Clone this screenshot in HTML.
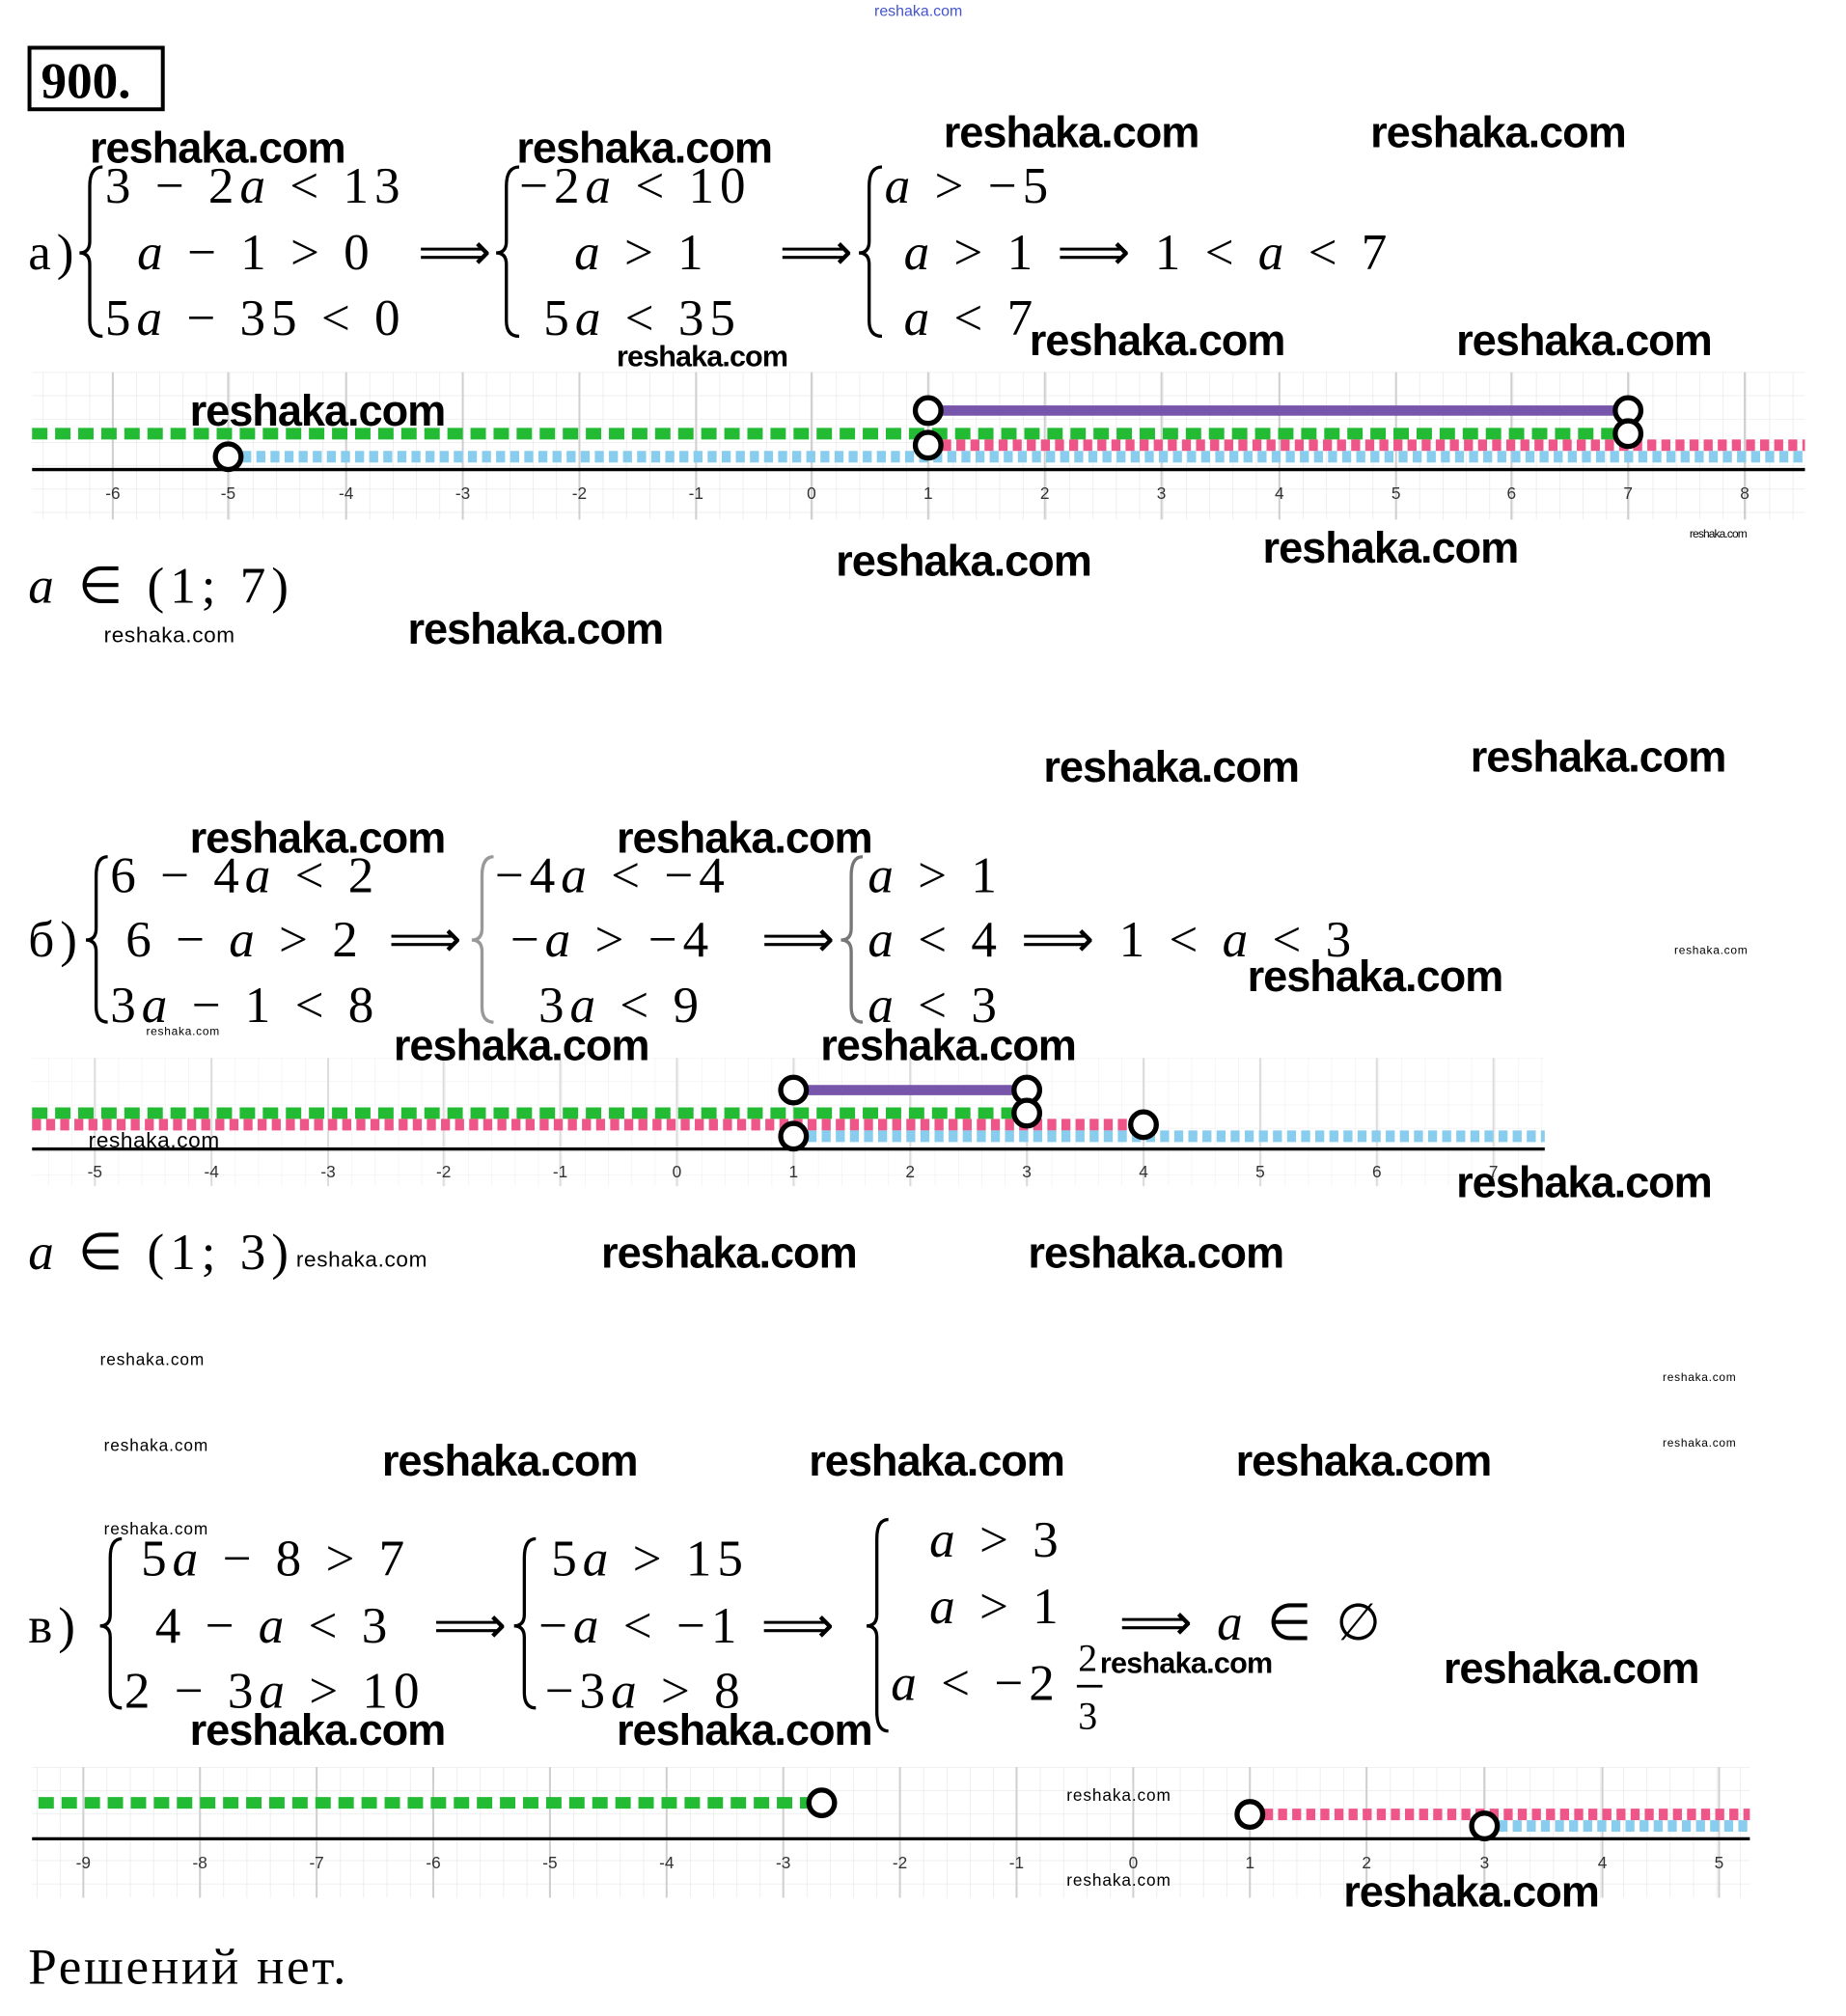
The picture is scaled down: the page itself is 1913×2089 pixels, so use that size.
<!DOCTYPE html>
<html><head><meta charset="utf-8"><style>
html,body{margin:0;padding:0;background:#fff;}
svg{display:block;}
.m{font-family:"Liberation Serif",serif;font-size:40px;fill:#000;letter-spacing:4.5px;}
.w{font-family:"Liberation Sans",sans-serif;font-weight:bold;fill:#000;}
.t{font-family:"Liberation Sans",sans-serif;font-size:13px;fill:#333;}
</style></head><body>
<svg width="1913" height="2089" viewBox="0 0 1440 1572" xmlns="http://www.w3.org/2000/svg">
<defs>
<pattern id="ga" patternUnits="userSpaceOnUse" x="88" y="290" width="18.2" height="18.2"><path d="M0 0V18.2M0 0H18.2" stroke="#e6e6e6" stroke-width="1" fill="none"/></pattern>
<pattern id="gb" patternUnits="userSpaceOnUse" x="74" y="825" width="18.2" height="18.2"><path d="M0 0V18.2M0 0H18.2" stroke="#f0f0f0" stroke-width="1" fill="none"/></pattern>
<pattern id="gc" patternUnits="userSpaceOnUse" x="65" y="1378" width="18.2" height="18.2"><path d="M0 0V18.2M0 0H18.2" stroke="#e6e6e6" stroke-width="1" fill="none"/></pattern>
</defs>
<rect width="1440" height="1572" fill="#fff"/>
<text x="682" y="12" font-family="Liberation Sans,sans-serif" font-size="12" fill="#4455cc">reshaka.com</text>
<rect x="23" y="37" width="104" height="48" fill="none" stroke="#000" stroke-width="3"/>
<text x="32" y="76" font-family="Liberation Serif,serif" font-weight="bold" font-size="40">900.</text>

<!-- part a -->
<g class="m" dominant-baseline="central">
<text x="22" y="197">а)</text>
<text x="82" y="145">3 − 2<tspan font-style="italic">a</tspan> &lt; 13</text>
<text x="107" y="197"><tspan font-style="italic">a</tspan> − 1 &gt; 0</text>
<text x="82" y="248">5<tspan font-style="italic">a</tspan> − 35 &lt; 0</text>
<text x="326" y="197" letter-spacing="0">⟹</text>
<text x="405" y="145">−2<tspan font-style="italic">a</tspan> &lt; 10</text>
<text x="448" y="197"><tspan font-style="italic">a</tspan> &gt; 1</text>
<text x="424" y="248">5<tspan font-style="italic">a</tspan> &lt; 35</text>
<text x="608" y="197" letter-spacing="0">⟹</text>
<text x="690" y="145"><tspan font-style="italic">a</tspan> &gt; −5</text>
<text x="705" y="197"><tspan font-style="italic">a</tspan> &gt; 1  ⟹ 1 &lt; <tspan font-style="italic">a</tspan> &lt; 7</text>
<text x="705" y="248"><tspan font-style="italic">a</tspan> &lt; 7</text>
</g>
<g fill="none" stroke="#000" stroke-width="2.5">
<path d="M80 130 Q70 130 70 145 L70 188 Q70 197 62 197 Q70 197 70 206 L70 250 Q70 262 80 262"/>
<path d="M405 130 Q395 130 395 145 L395 188 Q395 197 387 197 Q395 197 395 206 L395 250 Q395 262 405 262"/>
<path d="M688 130 Q678 130 678 145 L678 188 Q678 197 670 197 Q678 197 678 206 L678 250 Q678 262 688 262"/>
</g>

<!-- number line a -->
<rect x="25" y="290" width="1383" height="115" fill="url(#ga)"/>
<g stroke="#cfcfcf" stroke-width="1.5">
<path d="M88 290V405M178 290V405M270 290V405M361 290V405M452 290V405M543 290V405M633 290V405M724 290V405M815 290V405M906 290V405M998 290V405M1089 290V405M1179 290V405M1270 290V405M1361 290V405"/>
</g>
<line x1="25" y1="366" x2="1408" y2="366" stroke="#000" stroke-width="2.5"/>
<g class="t" text-anchor="middle">
<text x="88" y="389">-6</text><text x="178" y="389">-5</text><text x="270" y="389">-4</text><text x="361" y="389">-3</text><text x="452" y="389">-2</text><text x="543" y="389">-1</text><text x="633" y="389">0</text><text x="724" y="389">1</text><text x="815" y="389">2</text><text x="906" y="389">3</text><text x="998" y="389">4</text><text x="1089" y="389">5</text><text x="1179" y="389">6</text><text x="1270" y="389">7</text><text x="1361" y="389">8</text>
</g>
<line x1="25" y1="338" x2="1270" y2="338" stroke="#22bb33" stroke-width="9" stroke-dasharray="12 6"/>
<line x1="724" y1="347" x2="1408" y2="347" stroke="#ee5588" stroke-width="9" stroke-dasharray="7 4"/>
<line x1="178" y1="356" x2="1408" y2="356" stroke="#88ccee" stroke-width="9" stroke-dasharray="7 4"/>
<line x1="724" y1="320" x2="1270" y2="320" stroke="#7755aa" stroke-width="8"/>
<g fill="#fff" stroke="#000" stroke-width="4">
<circle cx="724" cy="320" r="10"/><circle cx="724" cy="347" r="10"/><circle cx="1270" cy="320" r="10"/><circle cx="1270" cy="338" r="10"/><circle cx="178" cy="356" r="10"/>
</g>
<text class="m" x="22" y="457" dominant-baseline="central"><tspan font-style="italic">a</tspan> ∈ (1; 7)</text>

<!-- part b -->
<g class="m" dominant-baseline="central">
<text x="22" y="733">б)</text>
<text x="86" y="683">6 − 4<tspan font-style="italic">a</tspan> &lt; 2</text>
<text x="98" y="733">6 − <tspan font-style="italic">a</tspan> &gt; 2</text>
<text x="86" y="784">3<tspan font-style="italic">a</tspan> − 1 &lt; 8</text>
<text x="303" y="733" letter-spacing="0">⟹</text>
<text x="386" y="683">−4<tspan font-style="italic">a</tspan> &lt; −4</text>
<text x="398" y="733">−<tspan font-style="italic">a</tspan> &gt; −4</text>
<text x="420" y="784">3<tspan font-style="italic">a</tspan> &lt; 9</text>
<text x="594" y="733" letter-spacing="0">⟹</text>
<text x="677" y="683"><tspan font-style="italic">a</tspan> &gt; 1</text>
<text x="677" y="733"><tspan font-style="italic">a</tspan> &lt; 4 ⟹ 1 &lt; <tspan font-style="italic">a</tspan> &lt; 3</text>
<text x="677" y="784"><tspan font-style="italic">a</tspan> &lt; 3</text>
</g>
<g fill="none" stroke="#000" stroke-width="2.5">
<path d="M84 668 Q75 668 75 683 L75 724 Q75 733 67 733 Q75 733 75 742 L75 785 Q75 797 84 797"/>
<path d="M385 668 Q376 668 376 683 L376 724 Q376 733 368 733 Q376 733 376 742 L376 785 Q376 797 385 797" stroke="#999"/>
<path d="M673 668 Q664 668 664 683 L664 724 Q664 733 656 733 Q664 733 664 742 L664 785 Q664 797 673 797" stroke="#777"/>
</g>

<!-- number line b -->
<rect x="25" y="825" width="1180" height="100" fill="url(#gb)"/>
<g stroke="#dcdcdc" stroke-width="1.5">
<path d="M74 825V925M165 825V925M256 825V925M346 825V925M437 825V925M528 825V925M619 825V925M710 825V925M801 825V925M892 825V925M983 825V925M1074 825V925M1165 825V925"/>
</g>
<line x1="25" y1="896" x2="1205" y2="896" stroke="#000" stroke-width="2.5"/>
<g class="t" text-anchor="middle">
<text x="74" y="918">-5</text><text x="165" y="918">-4</text><text x="256" y="918">-3</text><text x="346" y="918">-2</text><text x="437" y="918">-1</text><text x="528" y="918">0</text><text x="619" y="918">1</text><text x="710" y="918">2</text><text x="801" y="918">3</text><text x="892" y="918">4</text><text x="983" y="918">5</text><text x="1074" y="918">6</text><text x="1165" y="918">7</text>
</g>
<line x1="25" y1="868" x2="801" y2="868" stroke="#22bb33" stroke-width="9" stroke-dasharray="12 6"/>
<line x1="25" y1="877" x2="892" y2="877" stroke="#ee5588" stroke-width="9" stroke-dasharray="7 4"/>
<line x1="619" y1="886" x2="1205" y2="886" stroke="#88ccee" stroke-width="9" stroke-dasharray="7 4"/>
<line x1="619" y1="850" x2="801" y2="850" stroke="#7755aa" stroke-width="8"/>
<g fill="#fff" stroke="#000" stroke-width="4">
<circle cx="619" cy="850" r="10"/><circle cx="619" cy="886" r="10"/><circle cx="801" cy="850" r="10"/><circle cx="801" cy="868" r="10"/><circle cx="892" cy="877" r="10"/>
</g>
<text class="m" x="22" y="977" dominant-baseline="central"><tspan font-style="italic">a</tspan> ∈ (1; 3)</text>

<!-- part v -->
<g class="m" dominant-baseline="central">
<text x="22" y="1268">в)</text>
<text x="110" y="1216">5<tspan font-style="italic">a</tspan> − 8 &gt; 7</text>
<text x="121" y="1268">4 − <tspan font-style="italic">a</tspan> &lt; 3</text>
<text x="97" y="1319">2 − 3<tspan font-style="italic">a</tspan> &gt; 10</text>
<text x="338" y="1268" letter-spacing="0">⟹</text>
<text x="430" y="1216">5<tspan font-style="italic">a</tspan> &gt; 15</text>
<text x="420" y="1268">−<tspan font-style="italic">a</tspan> &lt; −1 ⟹</text>
<text x="425" y="1319">−3<tspan font-style="italic">a</tspan> &gt; 8</text>
<text x="725" y="1201"><tspan font-style="italic">a</tspan> &gt; 3</text>
<text x="725" y="1253"><tspan font-style="italic">a</tspan> &gt; 1</text>
<text x="695" y="1313"><tspan font-style="italic">a</tspan> &lt; −2</text>
<text x="841" y="1293" font-size="30" letter-spacing="0">2</text>
<text x="841" y="1338" font-size="30" letter-spacing="0">3</text>
<text x="873" y="1266">⟹ <tspan font-style="italic">a</tspan> ∈ ∅</text>
</g>
<line x1="840" y1="1315" x2="860" y2="1315" stroke="#000" stroke-width="2"/>
<g fill="none" stroke="#000" stroke-width="2.5">
<path d="M95 1200 Q86 1200 86 1215 L86 1259 Q86 1268 78 1268 Q86 1268 86 1277 L86 1320 Q86 1332 95 1332"/>
<path d="M418 1200 Q409 1200 409 1215 L409 1259 Q409 1268 401 1268 Q409 1268 409 1277 L409 1320 Q409 1332 418 1332"/>
<path d="M693 1185 Q684 1185 684 1200 L684 1259 Q684 1268 676 1268 Q684 1268 684 1277 L684 1335 Q684 1350 693 1350"/>
</g>

<!-- number line v -->
<rect x="25" y="1378" width="1340" height="102" fill="url(#gc)"/>
<g stroke="#cfcfcf" stroke-width="1.5">
<path d="M65 1378V1480M156 1378V1480M247 1378V1480M338 1378V1480M429 1378V1480M520 1378V1480M611 1378V1480M702 1378V1480M793 1378V1480M884 1378V1480M975 1378V1480M1066 1378V1480M1158 1378V1480M1250 1378V1480M1341 1378V1480"/>
</g>
<line x1="25" y1="1434" x2="1365" y2="1434" stroke="#000" stroke-width="2.5"/>
<g class="t" text-anchor="middle">
<text x="65" y="1457">-9</text><text x="156" y="1457">-8</text><text x="247" y="1457">-7</text><text x="338" y="1457">-6</text><text x="429" y="1457">-5</text><text x="520" y="1457">-4</text><text x="611" y="1457">-3</text><text x="702" y="1457">-2</text><text x="793" y="1457">-1</text><text x="884" y="1457">0</text><text x="975" y="1457">1</text><text x="1066" y="1457">2</text><text x="1158" y="1457">3</text><text x="1250" y="1457">4</text><text x="1341" y="1457">5</text>
</g>
<line x1="30" y1="1406" x2="641" y2="1406" stroke="#22bb33" stroke-width="9" stroke-dasharray="12 6"/>
<line x1="975" y1="1415" x2="1365" y2="1415" stroke="#ee5588" stroke-width="9" stroke-dasharray="7 4"/>
<line x1="1158" y1="1424" x2="1365" y2="1424" stroke="#88ccee" stroke-width="9" stroke-dasharray="7 4"/>
<g fill="#fff" stroke="#000" stroke-width="4">
<circle cx="641" cy="1406" r="10"/><circle cx="975" cy="1415" r="10"/><circle cx="1158" cy="1424" r="10"/>
</g>
<text x="22" y="1547" font-family="Liberation Serif,serif" font-size="40" letter-spacing="2">Решений нет.</text>

<!-- watermarks -->
<g class="w" dominant-baseline="central">
<g font-size="34">
<text x="70" y="115" textLength="200">reshaka.com</text>
<text x="403" y="115" textLength="200">reshaka.com</text>
<text x="736" y="103" textLength="200">reshaka.com</text>
<text x="1069" y="103" textLength="200">reshaka.com</text>
<text x="803" y="265" textLength="200">reshaka.com</text>
<text x="1136" y="265" textLength="200">reshaka.com</text>
<text x="148" y="320" textLength="200">reshaka.com</text>
<text x="652" y="437" textLength="200">reshaka.com</text>
<text x="985" y="427" textLength="200">reshaka.com</text>
<text x="318" y="490" textLength="200">reshaka.com</text>
<text x="814" y="598" textLength="200">reshaka.com</text>
<text x="1147" y="590" textLength="200">reshaka.com</text>
<text x="148" y="653" textLength="200">reshaka.com</text>
<text x="481" y="653" textLength="200">reshaka.com</text>
<text x="973" y="761" textLength="200">reshaka.com</text>
<text x="307" y="815" textLength="200">reshaka.com</text>
<text x="640" y="815" textLength="200">reshaka.com</text>
<text x="1136" y="922" textLength="200">reshaka.com</text>
<text x="469" y="977" textLength="200">reshaka.com</text>
<text x="802" y="977" textLength="200">reshaka.com</text>
<text x="298" y="1139" textLength="200">reshaka.com</text>
<text x="631" y="1139" textLength="200">reshaka.com</text>
<text x="964" y="1139" textLength="200">reshaka.com</text>
<text x="1126" y="1301" textLength="200">reshaka.com</text>
<text x="148" y="1349" textLength="200">reshaka.com</text>
<text x="481" y="1349" textLength="200">reshaka.com</text>
<text x="1048" y="1475" textLength="200">reshaka.com</text>
</g>
<g font-size="23">
<text x="481" y="278" textLength="134">reshaka.com</text>
<text x="858" y="1297" textLength="135">reshaka.com</text>
</g>
<g font-size="17" font-weight="normal">
<text x="81" y="495" textLength="102">reshaka.com</text>
<text x="69" y="889" textLength="102">reshaka.com</text>
<text x="231" y="982" textLength="102">reshaka.com</text>
</g>
<g font-size="13" font-weight="normal">
<text x="78" y="1060" textLength="81">reshaka.com</text>
<text x="81" y="1127" textLength="81">reshaka.com</text>
<text x="81" y="1192" textLength="81">reshaka.com</text>
<text x="832" y="1400" textLength="81">reshaka.com</text>
<text x="832" y="1466" textLength="81">reshaka.com</text>
</g>
<g font-size="9" font-weight="normal">
<text x="1318" y="416" textLength="45">reshaka.com</text>
<text x="1306" y="741" textLength="57">reshaka.com</text>
<text x="114" y="804" textLength="57">reshaka.com</text>
<text x="1297" y="1074" textLength="57">reshaka.com</text>
<text x="1297" y="1125" textLength="57">reshaka.com</text>
</g>
</g>
</svg>
</body></html>
